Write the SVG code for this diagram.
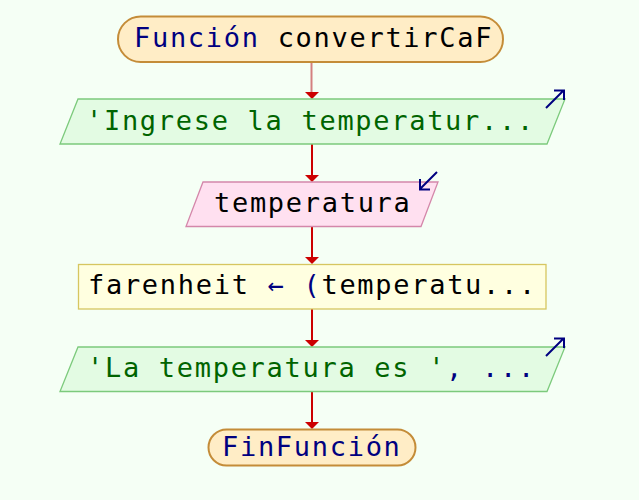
<svg xmlns="http://www.w3.org/2000/svg" width="639" height="500" viewBox="0 0 639 500">
  <style>
    text { font-family: "DejaVu Sans Mono", "Liberation Mono", monospace; font-size: 27px; letter-spacing: 1.7px; }
    .term { fill: #ffedc6; stroke: #c48c38; stroke-width: 2; }
    .out { fill: #e3fbe3; stroke: #7cca7c; stroke-width: 1.3; }
    .in { fill: #ffe0f0; stroke: #d487aa; stroke-width: 1.3; }
    .proc { fill: #ffffe0; stroke: #d6c660; stroke-width: 1.3; }
    .kw { fill: #000080; }
    .str { fill: #006400; }
    .id { fill: #000000; }
    .flow { stroke: #cc0000; stroke-width: 2; fill: none; }
    .flow-first { stroke: #d48080; stroke-width: 2; fill: none; }
    .head { fill: #cc0000; }
    .io { stroke: #000080; stroke-width: 2; fill: none; }
  </style>

  <rect width="639" height="500" fill="#f5fff5"/>

  <!-- connectors -->
  <g id="connectors">
    <line class="flow-first" x1="311.5" y1="62" x2="311.5" y2="93"/>
    <polygon class="head" points="305,92 319,92 312,99"/>
    <line class="flow" x1="312" y1="144" x2="312" y2="176"/>
    <polygon class="head" points="305,175 319,175 312,182"/>
    <line class="flow" x1="312" y1="226" x2="312" y2="258"/>
    <polygon class="head" points="305,257 319,257 312,264"/>
    <line class="flow" x1="312" y1="309" x2="312" y2="341"/>
    <polygon class="head" points="305,340 319,340 312,347"/>
    <line class="flow" x1="312" y1="392" x2="312" y2="423"/>
    <polygon class="head" points="305,422 319,422 312,429"/>
  </g>

  <!-- start -->
  <g id="start">
    <rect class="term" x="118" y="16.5" width="385" height="45.5" rx="22.7"/>
    <text x="134" y="46.5"><tspan class="kw">Función</tspan><tspan class="id"> convertirCaF</tspan></text>
  </g>

  <!-- prompt output -->
  <g id="prompt">
    <polygon class="out" points="78,99 565,99 547,144 60,144"/>
    <text x="86" y="130" class="str">'Ingrese la temperatur...</text>
    <path class="io" d="M546,108 L563,91 M554,90.5 L564,90.5 L564,100"/>
  </g>

  <!-- read input -->
  <g id="read">
    <polygon class="in" points="203,182 438,182 421,226.5 186,226.5"/>
    <text x="214" y="212" class="id">temperatura</text>
    <path class="io" d="M437,172 L420,189 M420,179 L420,189.5 L430,189.5"/>
  </g>

  <!-- assignment -->
  <g id="assign">
    <rect class="proc" x="78.5" y="264.5" width="467.5" height="44.5"/>
    <text x="88" y="294"><tspan class="id">farenheit </tspan><tspan class="kw">← (</tspan><tspan class="id">temperatu...</tspan></text>
  </g>

  <!-- result output -->
  <g id="result">
    <polygon class="out" points="78,347 565,347 547,391.5 60,391.5"/>
    <text x="87" y="377"><tspan class="str">'La temperatura es '</tspan><tspan class="kw">, ...</tspan></text>
    <path class="io" d="M546,356 L563,339 M554,338.5 L564,338.5 L564,348"/>
  </g>

  <!-- end -->
  <g id="end">
    <rect class="term" x="208.5" y="429.5" width="207" height="36" rx="18"/>
    <text x="222" y="456" class="kw">FinFunción</text>
  </g>
</svg>
